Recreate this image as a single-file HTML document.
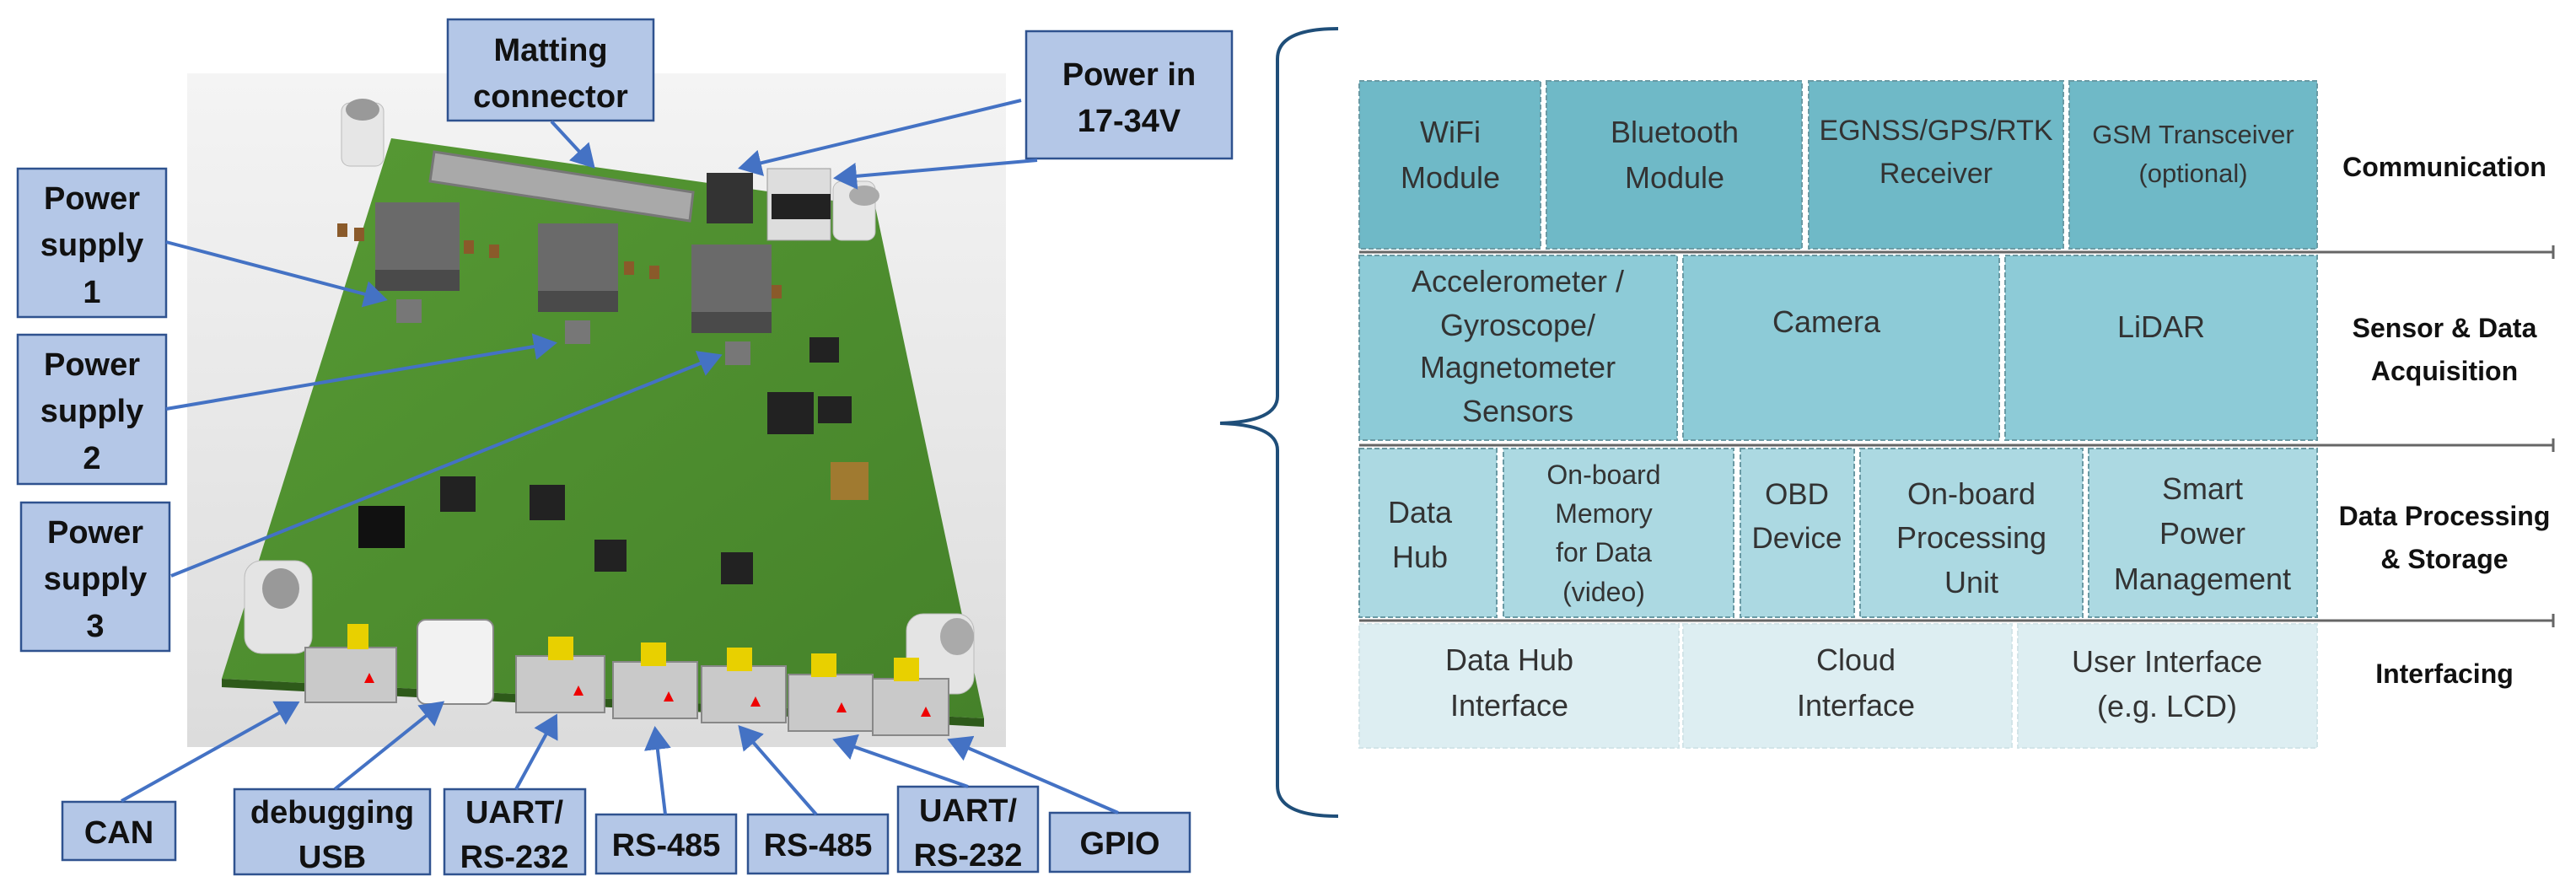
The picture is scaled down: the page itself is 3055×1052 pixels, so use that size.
<!DOCTYPE html>
<html><head><meta charset="utf-8"><style>
html,body{margin:0;padding:0;background:#fff;}
svg{display:block}
</style></head><body>
<svg width="3055" height="1052" viewBox="0 0 3055 1052" xmlns="http://www.w3.org/2000/svg">
<defs>
<linearGradient id="bg" x1="0" y1="0" x2="0" y2="1"><stop offset="0" stop-color="#f4f4f4"/><stop offset="1" stop-color="#dcdcdc"/></linearGradient>
<linearGradient id="pcb" x1="0" y1="0" x2="1" y2="1"><stop offset="0" stop-color="#579a34"/><stop offset="1" stop-color="#45822a"/></linearGradient>
<marker id="ar" markerWidth="8" markerHeight="8" refX="6" refY="4" orient="auto" markerUnits="strokeWidth"><path d="M0,0 L7,4 L0,8 z" fill="#4472c4"/></marker>
</defs>
<rect x="222" y="87" width="971" height="799" fill="url(#bg)"/>
<polygon points="464,164 1038,245 1167,852 263,805" fill="url(#pcb)"/>
<polygon points="263,805 1167,852 1167,862 263,815" fill="#2e5a1a"/>
<polygon points="515,180 822,228 818,262 510,215" fill="#a9a9a9" stroke="#777" stroke-width="3"/>
<rect x="445" y="240" width="100" height="105" fill="#6a6a6a"/><rect x="445" y="320" width="100" height="25" fill="#4a4a4a"/>
<rect x="638" y="265" width="95" height="105" fill="#6a6a6a"/><rect x="638" y="345" width="95" height="25" fill="#4a4a4a"/>
<rect x="820" y="290" width="95" height="105" fill="#6a6a6a"/><rect x="820" y="370" width="95" height="25" fill="#4a4a4a"/>
<rect x="470" y="355" width="30" height="28" fill="#777"/><rect x="670" y="380" width="30" height="28" fill="#777"/><rect x="860" y="405" width="30" height="28" fill="#777"/>
<rect x="960" y="400" width="35" height="30" fill="#222"/><rect x="910" y="465" width="55" height="50" fill="#222"/><rect x="970" y="470" width="40" height="32" fill="#222"/>
<rect x="522" y="565" width="42" height="42" fill="#222"/><rect x="628" y="575" width="42" height="42" fill="#222"/><rect x="705" y="640" width="38" height="38" fill="#222"/><rect x="855" y="655" width="38" height="38" fill="#222"/>
<rect x="425" y="600" width="55" height="50" fill="#111"/>
<rect x="985" y="548" width="45" height="45" fill="#a07a30"/>
<g fill="#8a5a2a"><rect x="400" y="265" width="12" height="16"/><rect x="420" y="270" width="12" height="16"/><rect x="550" y="285" width="12" height="16"/><rect x="580" y="290" width="12" height="16"/><rect x="740" y="310" width="12" height="16"/><rect x="770" y="315" width="12" height="16"/><rect x="915" y="338" width="12" height="16"/></g>
<rect x="405" y="122" width="50" height="75" rx="10" fill="#e6e6e6" stroke="#bbb"/><ellipse cx="430" cy="130" rx="20" ry="13" fill="#999"/>
<rect x="988" y="215" width="50" height="70" rx="10" fill="#e6e6e6" stroke="#bbb"/><ellipse cx="1025" cy="232" rx="18" ry="12" fill="#aaa"/>
<rect x="290" y="665" width="80" height="110" rx="20" fill="#e4e4e4" stroke="#bbb"/><ellipse cx="333" cy="698" rx="22" ry="24" fill="#999"/>
<rect x="1075" y="728" width="80" height="95" rx="20" fill="#e4e4e4" stroke="#bbb"/><ellipse cx="1135" cy="755" rx="20" ry="22" fill="#aaa"/>
<rect x="838" y="205" width="55" height="60" fill="#333"/><rect x="910" y="200" width="75" height="85" fill="#ddd" stroke="#999"/><rect x="915" y="230" width="70" height="30" fill="#222"/>
<g fill="#c9c9c9" stroke="#888" stroke-width="2">
<rect x="362" y="768" width="108" height="65"/>
<rect x="495" y="735" width="90" height="100" rx="10" fill="#f2f2f2"/>
<rect x="612" y="778" width="105" height="67"/>
<rect x="727" y="785" width="100" height="67"/>
<rect x="832" y="790" width="100" height="67"/>
<rect x="935" y="800" width="100" height="67"/>
<rect x="1035" y="805" width="90" height="67"/>
</g>
<g fill="#e8d000"><rect x="412" y="740" width="25" height="30"/><rect x="650" y="755" width="30" height="28"/><rect x="760" y="762" width="30" height="28"/><rect x="862" y="768" width="30" height="28"/><rect x="962" y="775" width="30" height="28"/><rect x="1060" y="780" width="30" height="28"/></g>
<g fill="#e00"><polygon points="432,810 438,798 444,810"/><polygon points="680,825 686,813 692,825"/><polygon points="787,832 793,820 799,832"/><polygon points="890,838 896,826 902,838"/><polygon points="992,845 998,833 1004,845"/><polygon points="1092,850 1098,838 1104,850"/></g>

<g fill="#b4c7e7" stroke="#2f528f" stroke-width="2.5">
<rect x="531" y="23" width="244" height="120"/>
<rect x="1217" y="37" width="244" height="151"/>
<rect x="21" y="200" width="176" height="176"/>
<rect x="21" y="397" width="176" height="177"/>
<rect x="25" y="596" width="176" height="176"/>
<rect x="74" y="951" width="134" height="69"/>
<rect x="278" y="936" width="232" height="101"/>
<rect x="527" y="936" width="167" height="101"/>
<rect x="707" y="966" width="166" height="70"/>
<rect x="887" y="966" width="166" height="70"/>
<rect x="1065" y="933" width="166" height="101"/>
<rect x="1245" y="964" width="166" height="70"/>
</g>
<g font-family="Liberation Sans, sans-serif" font-weight="bold" font-size="38" fill="#111" text-anchor="middle">
<text x="653" y="72">Matting</text><text x="653" y="127">connector</text>
<text x="1339" y="101">Power in</text><text x="1339" y="156">17-34V</text>
<text x="109" y="248">Power</text><text x="109" y="303">supply</text><text x="109" y="359">1</text>
<text x="109" y="445">Power</text><text x="109" y="500">supply</text><text x="109" y="556">2</text>
<text x="113" y="644">Power</text><text x="113" y="699">supply</text><text x="113" y="755">3</text>
<text x="141" y="1000">CAN</text>
<text x="394" y="976">debugging</text><text x="394" y="1029">USB</text>
<text x="610" y="976">UART/</text><text x="610" y="1029">RS-232</text>
<text x="790" y="1015">RS-485</text>
<text x="970" y="1015">RS-485</text>
<text x="1148" y="974">UART/</text><text x="1148" y="1027">RS-232</text>
<text x="1328" y="1013">GPIO</text>
</g>
<g stroke="#4472c4" stroke-width="4" fill="none" marker-end="url(#ar)">
<line x1="654" y1="144" x2="703" y2="197"/>
<line x1="1211" y1="119" x2="879" y2="199"/>
<line x1="1230" y1="190" x2="992" y2="211"/>
<line x1="197" y1="287" x2="456" y2="355"/>
<line x1="197" y1="485" x2="657" y2="407"/>
<line x1="203" y1="683" x2="853" y2="422"/>
<line x1="144" y1="950" x2="352" y2="834"/>
<line x1="397" y1="936" x2="524" y2="834"/>
<line x1="612" y1="936" x2="659" y2="850"/>
<line x1="789" y1="966" x2="777" y2="865"/>
<line x1="968" y1="966" x2="878" y2="863"/>
<line x1="1148" y1="933" x2="991" y2="878"/>
<line x1="1326" y1="964" x2="1127" y2="878"/>
</g>

<path d="M1587,34 Q1515,34 1515,70 L1515,470 Q1515,500 1447,502 Q1515,504 1515,534 L1515,932 Q1515,968 1587,968" fill="none" stroke="#1f4e79" stroke-width="4"/>

<g stroke="#6a9aa4" stroke-width="2" stroke-dasharray="6,3">
<g fill="#6fb9c7">
<rect x="1612" y="96" width="215" height="199"/><rect x="1834" y="96" width="303" height="199"/><rect x="2145" y="96" width="302" height="199"/><rect x="2454" y="96" width="294" height="199"/>
</g>
<g fill="#8dcbd7">
<rect x="1612" y="303" width="377" height="219"/><rect x="1996" y="303" width="375" height="219"/><rect x="2378" y="303" width="370" height="219"/>
</g>
<g fill="#acd9e2">
<rect x="1612" y="532" width="163" height="200"/><rect x="1783" y="532" width="273" height="200"/><rect x="2064" y="532" width="135" height="200"/><rect x="2206" y="532" width="264" height="200"/><rect x="2477" y="532" width="271" height="200"/>
</g>
<g fill="#ddeef2" stroke="#d2e4e8">
<rect x="1612" y="740" width="379" height="147"/><rect x="1996" y="740" width="390" height="147"/><rect x="2393" y="740" width="355" height="147"/>
</g>
</g>
<g stroke="#666" stroke-width="3">
<line x1="1612" y1="299" x2="3028" y2="299"/><line x1="3028" y1="291" x2="3028" y2="307"/>
<line x1="1612" y1="528" x2="3028" y2="528"/><line x1="3028" y1="520" x2="3028" y2="536"/>
<line x1="1612" y1="736" x2="3028" y2="736"/><line x1="3028" y1="728" x2="3028" y2="744"/>
</g>
<g font-family="Liberation Sans, sans-serif" font-size="36" fill="#333" text-anchor="middle">
<text x="1720" y="169">WiFi</text><text x="1720" y="223">Module</text>
<text x="1986" y="169">Bluetooth</text><text x="1986" y="223">Module</text>
<text x="2296" y="166" font-size="34">EGNSS/GPS/RTK</text><text x="2296" y="217" font-size="34">Receiver</text>
<text x="2601" y="170" font-size="31">GSM Transceiver</text><text x="2601" y="216" font-size="31">(optional)</text>
<text x="1800" y="346">Accelerometer /</text><text x="1800" y="398">Gyroscope/</text><text x="1800" y="448">Magnetometer</text><text x="1800" y="500">Sensors</text>
<text x="2166" y="394">Camera</text>
<text x="2563" y="400">LiDAR</text>
<text x="1684" y="620">Data</text><text x="1684" y="673">Hub</text>
<text x="1902" y="574" font-size="32">On-board</text><text x="1902" y="620" font-size="32">Memory</text><text x="1902" y="666" font-size="32">for Data</text><text x="1902" y="713" font-size="32">(video)</text>
<text x="2131" y="598" font-size="35">OBD</text><text x="2131" y="650" font-size="35">Device</text>
<text x="2338" y="598">On-board</text><text x="2338" y="650">Processing</text><text x="2338" y="703">Unit</text>
<text x="2612" y="592">Smart</text><text x="2612" y="645">Power</text><text x="2612" y="699">Management</text>
<text x="1790" y="795">Data Hub</text><text x="1790" y="849">Interface</text>
<text x="2201" y="795">Cloud</text><text x="2201" y="849">Interface</text>
<text x="2570" y="797">User Interface</text><text x="2570" y="850">(e.g. LCD)</text>
</g>
<g font-family="Liberation Sans, sans-serif" font-weight="bold" font-size="32" fill="#111" text-anchor="middle">
<text x="2899" y="209">Communication</text>
<text x="2899" y="400">Sensor &amp; Data</text><text x="2899" y="451">Acquisition</text>
<text x="2899" y="623">Data Processing</text><text x="2899" y="674">&amp; Storage</text>
<text x="2899" y="810">Interfacing</text>
</g>
</svg>
</body></html>
